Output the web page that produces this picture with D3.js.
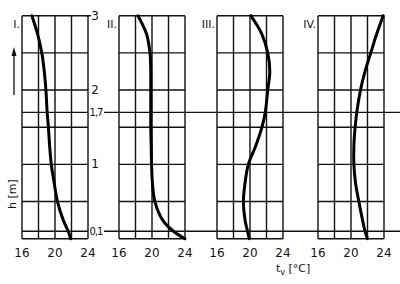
<!DOCTYPE html>
<html>
<head>
<meta charset="utf-8">
<script src="https://cdn.jsdelivr.net/npm/d3@7"></script>
<style>
  body { margin: 0; background: #fff; }
  svg text { font-family: "DejaVu Sans", sans-serif; fill: #111; }
  .roman { opacity: 0.99; }
</style>
</head>
<body>
<svg id="chart" width="400" height="284"></svg>
<script>
// profile names and shared heights (m)
var panels = ["I.", "II.", "III.", "IV."];
var heights = [0, 0.1, 0.25, 0.5, 0.75, 1, 1.25, 1.5, 1.7, 2, 2.25, 2.5, 2.75, 3];

// air temperature tv (degC) for each profile, read at the heights above
var temp_I   = [21.9, 21.6, 21.0, 20.3, 19.9, 19.55, 19.35, 19.2, 19.05, 18.9, 18.7, 18.4, 17.9, 17.2];
var temp_II  = [24.0, 22.6, 21.3, 20.35, 20.05, 19.95, 19.9, 19.85, 19.85, 19.85, 19.85, 19.75, 19.35, 18.3];
var temp_III = [19.9, 19.7, 19.4, 19.2, 19.4, 19.8, 20.7, 21.45, 21.85, 22.15, 22.4, 22.15, 21.45, 20.1];
var temp_IV  = [22.0, 21.7, 21.4, 20.95, 20.55, 20.35, 20.35, 20.5, 20.7, 21.15, 21.7, 22.4, 23.1, 23.9];
var profiles = [temp_I, temp_II, temp_III, temp_IV];

var xTicks = [16, 20, 24];
var xGrid = [16, 18, 20, 22, 24];
var hGrid = [0, 0.5, 1, 1.5, 2, 2.5, 3];
var hLabels = [3, 2, 1.7, 1, 0.1];
var hMarks = [1.7, 0.1];   // long reference lines

var panelLeft = [22, 119, 217, 318];
var panelWidth = 66;

var svg = d3.select("#chart");

var y = d3.scaleLinear().domain([0, 3]).range([238.7, 15.7]);

panels.forEach(function(name, i) {
  var x = d3.scaleLinear().domain([16, 24]).range([panelLeft[i], panelLeft[i] + panelWidth]);
  var g = svg.append("g");

  // grid
  g.selectAll(".hg").data(i == 0 ? hGrid.concat(hMarks) : hGrid).enter()
    .append("line")
    .attr("x1", x(16)).attr("x2", x(24))
    .attr("y1", function(d) { return y(d); })
    .attr("y2", function(d) { return y(d); })
    .attr("stroke", "#111").attr("stroke-width", 1.4);

  g.selectAll(".vg").data(xGrid).enter()
    .append("line")
    .attr("x1", function(d) { return x(d); })
    .attr("x2", function(d) { return x(d); })
    .attr("y1", y(0)).attr("y2", y(3))
    .attr("stroke", "#111").attr("stroke-width", 1.4);

  // x tick labels
  g.selectAll(".xt").data(xTicks).enter()
    .append("text")
    .attr("x", function(d) { return x(d); })
    .attr("y", 257)
    .attr("text-anchor", "middle")
    .attr("font-size", 12)
    .text(function(d) { return d; });

  // roman numeral
  g.append("text")
    .attr("class", "roman")
    .attr("x", x(16) - 2)
    .attr("y", 28)
    .attr("text-anchor", "end")
    .attr("font-size", 11)
    .text(name);

  // profile curve
  var pts = heights.map(function(h, k) { return [profiles[i][k], h]; });
  var line = d3.line()
    .x(function(d) { return x(d[0]); })
    .y(function(d) { return y(d[1]); })
    .curve(d3.curveCatmullRom.alpha(0.5));

  g.append("path")
    .attr("d", line(pts))
    .attr("fill", "none")
    .attr("stroke", "#000")
    .attr("stroke-width", 3)
    .attr("stroke-linecap", "round");
});

// long reference lines at 1.7 m and 0.1 m
svg.selectAll(".mark").data(hMarks).enter()
  .append("line")
  .attr("x1", 104).attr("x2", 400)
  .attr("y1", function(d) { return y(d); })
  .attr("y2", function(d) { return y(d); })
  .attr("stroke", "#111").attr("stroke-width", 1.4);

// top line of panel I runs to the "3" label
svg.append("line")
  .attr("x1", 86).attr("x2", 91)
  .attr("y1", y(3)).attr("y2", y(3))
  .attr("stroke", "#111").attr("stroke-width", 1.4);

// height labels
svg.selectAll(".hl").data(hLabels).enter()
  .append("text")
  .attr("x", function(d) { return (d == 1.7 || d == 0.1) ? 96 : 95; })
  .attr("y", function(d) { return y(d) + 4; })
  .attr("text-anchor", "middle")
  .attr("font-size", function(d) { return (d == 1.7 || d == 0.1) ? 10 : 12; })
  .attr("letter-spacing", function(d) { return (d == 1.7 || d == 0.1) ? -1 : 0; })
  .text(function(d) { return String(d).replace(".", ","); });

// arrow
svg.append("line")
  .attr("x1", 14).attr("x2", 14)
  .attr("y1", 95).attr("y2", 52)
  .attr("stroke", "#111").attr("stroke-width", 1.3);
svg.append("path")
  .attr("d", "M14,47 L11.5,56 L16.5,56 Z")
  .attr("fill", "#111");

// axis titles
svg.append("text")
  .attr("transform", "translate(16,194) rotate(-90)")
  .attr("text-anchor", "middle")
  .attr("font-size", 11)
  .text("h [m]");

var xt = svg.append("text")
  .attr("x", 276)
  .attr("y", 272)
  .attr("font-size", 11);
xt.append("tspan").text("t");
xt.append("tspan").attr("font-size", 8).attr("dy", 3).text("v");
xt.append("tspan").attr("dy", -3).text(" [°C]");
</script>
</body>
</html>
